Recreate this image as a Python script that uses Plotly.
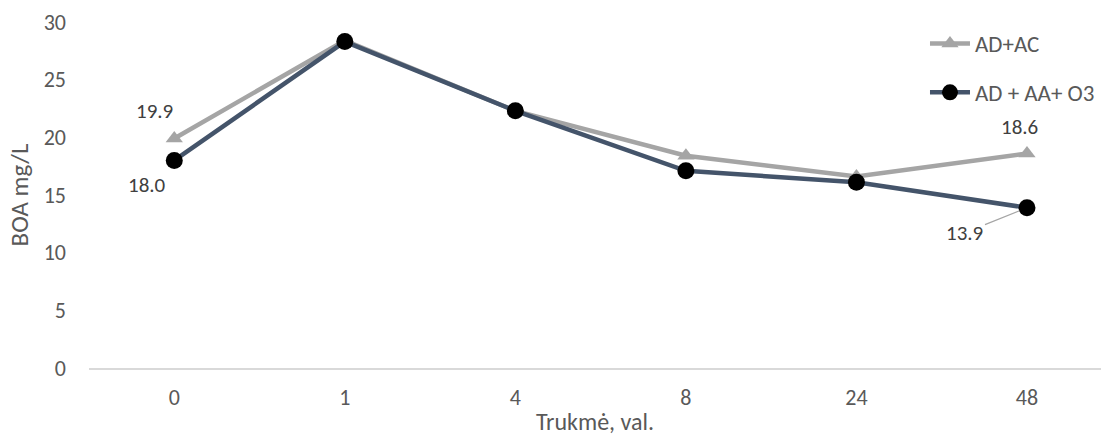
import plotly.graph_objects as go

categories = ["0", "1", "4", "8", "24", "48"]
ad_ac = [19.9, 28.4, 22.3, 18.4, 16.6, 18.6]
ad_aa_o3 = [18.0, 28.3, 22.3, 17.1, 16.1, 13.9]
y_ticks = [0, 5, 10, 15, 20, 25, 30]

FONT = "Carlito, Calibri, Lato, sans-serif"
TXT = "#595959"

fig = go.Figure()
fig.add_trace(go.Scatter(
    x=categories, y=ad_ac, name="AD+AC", mode="lines+markers",
    line=dict(color="#A5A5A5", width=4.5),
    marker=dict(symbol="triangle-up", size=15, color="#A5A5A5"),
    legendgroup="a", cliponaxis=False,
))
fig.add_trace(go.Scatter(
    x=categories, y=ad_aa_o3, name="AD + AA+ O3", mode="lines+markers",
    line=dict(color="#44546A", width=4.5),
    marker=dict(symbol="circle", size=17, color="#000000"),
    legendgroup="b", cliponaxis=False,
))

# data labels (x given as category index)
first, last = 0, len(categories) - 1
lab_font = dict(family=FONT, size=21, color="#404040")
fig.add_annotation(x=first, y=ad_ac[first], text=f"{ad_ac[first]:.1f}", showarrow=False,
                   xshift=-20, yshift=27, font=lab_font)
fig.add_annotation(x=first, y=ad_aa_o3[first], text=f"{ad_aa_o3[first]:.1f}", showarrow=False,
                   xshift=-27, yshift=-25, font=lab_font)
fig.add_annotation(x=last, y=ad_ac[last], text=f"{ad_ac[last]:.1f}", showarrow=False,
                   xshift=-7, yshift=26, font=lab_font)
fig.add_annotation(x=last, y=ad_aa_o3[last], text=f"{ad_aa_o3[last]:.1f}", showarrow=True,
                   arrowhead=0, arrowwidth=1.2, arrowcolor="#A5A5A5", standoff=8,
                   ax=-62, ay=25, font=lab_font)

fig.update_layout(
    width=1101, height=439,
    margin=dict(l=89, r=0, t=22, b=71),
    paper_bgcolor="white", plot_bgcolor="white",
    font=dict(family=FONT, size=22, color=TXT),
    showlegend=True,
    legend=dict(x=0.999, y=1.0, xanchor="right", yanchor="top",
                traceorder="grouped", tracegroupgap=16,
                font=dict(family=FONT, size=23, color=TXT),
                bgcolor="rgba(0,0,0,0)", itemwidth=40),
    xaxis=dict(type="category", range=[-0.5, 5.434], showgrid=False,
               showline=True, linecolor="#D9D9D9", linewidth=1.5,
               ticks="", ticklabelstandoff=9, tickfont=dict(size=22, color=TXT),
               title=dict(text="Trukmė, val.", font=dict(size=24, color=TXT), standoff=3),
               zeroline=False, automargin=False),
    yaxis=dict(range=[0, 30], tickvals=y_ticks, showgrid=False, showline=False,
               zeroline=False, ticks="", ticklabelstandoff=22,
               tickfont=dict(size=22, color=TXT), automargin=False,
               title=dict(text="BOA mg/L", font=dict(size=25, color=TXT), standoff=7)),
)

fig.write_html("out.html")
